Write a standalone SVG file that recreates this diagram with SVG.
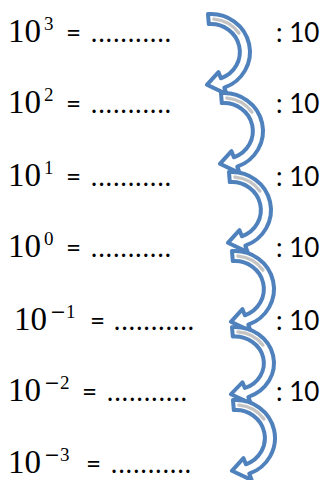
<svg xmlns="http://www.w3.org/2000/svg" width="329" height="480" viewBox="0 0 329 480">
<style>
.m{font-family:"Liberation Serif","Times New Roman",serif;font-size:33px;fill:#000}
.e{font-size:19px}
.mn{font-family:"DejaVu Sans",sans-serif}
.t{font-family:Lato,"Liberation Sans",sans-serif;font-size:26px;fill:#000}
.band{fill:#fff;stroke:#4F81BD;stroke-width:4;stroke-linejoin:round}
.hl{fill:none;stroke:#c4c4c4;stroke-width:3.5;stroke-linecap:round}
</style>
<defs>
<g id="arrow">
<path class="band" d="M0,0.1 A39,38 0 0 1 16.3,73.7 L18.7,80.1 L-1.1,70.8 L10.5,58.2 L12.9,64.3 A29,28 0 0 0 0.8,10.1 Z"/>
<path class="hl" d="M5.96,5.13 A34,33 0 0 1 30.85,19.07"/>
</g>
</defs>
<g id="connectors">
<use href="#arrow" transform="translate(208,14)"/>
<use href="#arrow" transform="translate(221,93)"/>
<use href="#arrow" transform="translate(229,172)"/>
<use href="#arrow" transform="translate(232,251)"/>
<use href="#arrow" transform="translate(232,327) scale(1,0.95)"/>
<use href="#arrow" transform="translate(233,400)"/>
</g>
<g id="row1">
<text class="m" x="8" y="41.5">10<tspan class="e" dx="3" dy="-12">3</tspan></text>
<text class="t" x="66" y="41.5">=</text>
<text class="t" x="91" y="41.5" textLength="80" lengthAdjust="spacing">...........</text>
<text class="t" x="276" y="41.5">: 10</text>
</g>
<g id="row2">
<text class="m" x="8" y="113">10<tspan class="e" dx="3" dy="-12">2</tspan></text>
<text class="t" x="66" y="113">=</text>
<text class="t" x="91" y="113" textLength="80" lengthAdjust="spacing">...........</text>
<text class="t" x="276" y="113">: 10</text>
</g>
<g id="row3">
<text class="m" x="8" y="185.5">10<tspan class="e" dx="3" dy="-12">1</tspan></text>
<text class="t" x="66" y="185.5">=</text>
<text class="t" x="91" y="185.5" textLength="80" lengthAdjust="spacing">...........</text>
<text class="t" x="276" y="185.5">: 10</text>
</g>
<g id="row4">
<text class="m" x="8" y="257">10<tspan class="e" dx="3" dy="-12">0</tspan></text>
<text class="t" x="66" y="257">=</text>
<text class="t" x="91" y="257" textLength="80" lengthAdjust="spacing">...........</text>
<text class="t" x="276" y="257">: 10</text>
</g>
<g id="row5">
<text class="m" x="14" y="330">10<tspan class="e" dx="3" dy="-12"><tspan class="mn">−</tspan>1</tspan></text>
<text class="t" x="90" y="330">=</text>
<text class="t" x="114" y="330" textLength="80" lengthAdjust="spacing">...........</text>
<text class="t" x="276" y="330">: 10</text>
</g>
<g id="row6">
<text class="m" x="8" y="401">10<tspan class="e" dx="3" dy="-12"><tspan class="mn">−</tspan>2</tspan></text>
<text class="t" x="82" y="401">=</text>
<text class="t" x="107" y="401" textLength="80" lengthAdjust="spacing">...........</text>
<text class="t" x="276" y="401">: 10</text>
</g>
<g id="row7">
<text class="m" x="8" y="473">10<tspan class="e" dx="3" dy="-12"><tspan class="mn">−</tspan>3</tspan></text>
<text class="t" x="86" y="473">=</text>
<text class="t" x="111" y="473" textLength="80" lengthAdjust="spacing">...........</text>
</g>
</svg>
